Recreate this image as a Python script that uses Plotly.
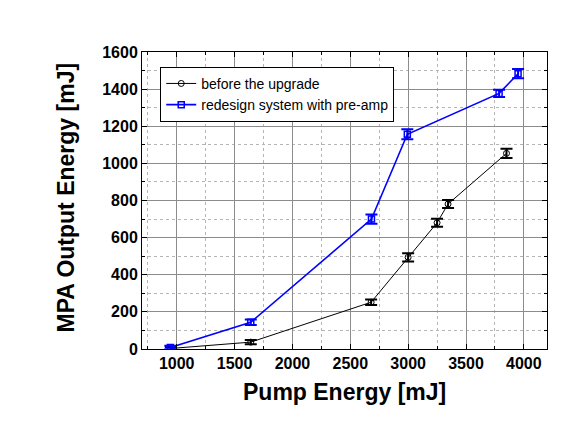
import plotly.graph_objects as go

# Data
before_x = [950, 1640, 2680, 3000, 3250, 3345, 3850]
before_y = [3, 37, 252, 494, 680, 781, 1054]
before_err = [8, 12, 15, 22, 22, 22, 25]

redesign_x = [945, 1640, 2683, 2993, 3786, 3950]
redesign_y = [8, 144, 700, 1157, 1377, 1483]
redesign_err = [10, 15, 25, 27, 20, 25]

x_tickvals = [1000, 1500, 2000, 2500, 3000, 3500, 4000]
y_tickvals = [0, 200, 400, 600, 800, 1000, 1200, 1400, 1600]

fig = go.Figure()
fig.add_trace(go.Scatter(
    x=before_x, y=before_y, mode="lines+markers", name="before the upgrade",
    line=dict(color="black", width=1),
    marker=dict(symbol="circle-open", size=6, color="black", line=dict(width=1)),
    error_y=dict(type="data", array=before_err, color="black", thickness=2, width=6),
))
fig.add_trace(go.Scatter(
    x=redesign_x, y=redesign_y, mode="lines+markers", name="redesign system with pre-amp",
    line=dict(color="#0000FF", width=1.6),
    marker=dict(symbol="square-open", size=6, color="#0000FF", line=dict(width=1.5)),
    error_y=dict(type="data", array=redesign_err, color="#0000FF", thickness=2, width=6),
))

axis_common = dict(
    showline=True, linecolor="black", linewidth=1, mirror="allticks",
    ticks="inside", ticklen=5, tickcolor="black",
    showgrid=True, gridcolor="#8c8c8c", gridwidth=1,
    zeroline=False, automargin=False,
    tickfont=dict(family="Liberation Sans, Arial", size=16, color="black", weight="bold"),
)

title_font = dict(family="Liberation Sans, Arial", size=23, color="black", weight="bold")

fig.update_xaxes(
    range=[700, 4200], tickvals=x_tickvals,
    minor=dict(dtick=250, ticks="inside", ticklen=3, tickcolor="black",
               showgrid=True, gridcolor="#b5b5b5", griddash="dot"),
    **axis_common,
)
fig.update_yaxes(
    range=[0, 1600], tickvals=y_tickvals,
    minor=dict(dtick=100, ticks="inside", ticklen=3, tickcolor="black",
               showgrid=True, gridcolor="#b5b5b5", griddash="dot"),
    **axis_common,
)

fig.add_annotation(text="Pump Energy [mJ]", xref="paper", yref="paper",
                   x=0.5, y=-43 / 297, xanchor="center", yanchor="middle",
                   showarrow=False, font=title_font)
fig.add_annotation(text="MPA Output Energy [mJ]", xref="paper", yref="paper",
                   x=-76 / 405, y=0.51, xanchor="center", yanchor="middle",
                   textangle=-90, showarrow=False, font=title_font)

fig.update_layout(
    width=583, height=429,
    margin=dict(l=134, r=44, t=44, b=88),
    paper_bgcolor="white", plot_bgcolor="white",
    showlegend=True,
    legend=dict(
        x=0.045, y=0.95, xanchor="left", yanchor="top",
        bgcolor="white", bordercolor="black", borderwidth=1,
        font=dict(family="Liberation Sans, Arial", size=14, color="black"),
        tracegroupgap=0, itemwidth=30,
    ),
)

fig.write_html("out.html")
